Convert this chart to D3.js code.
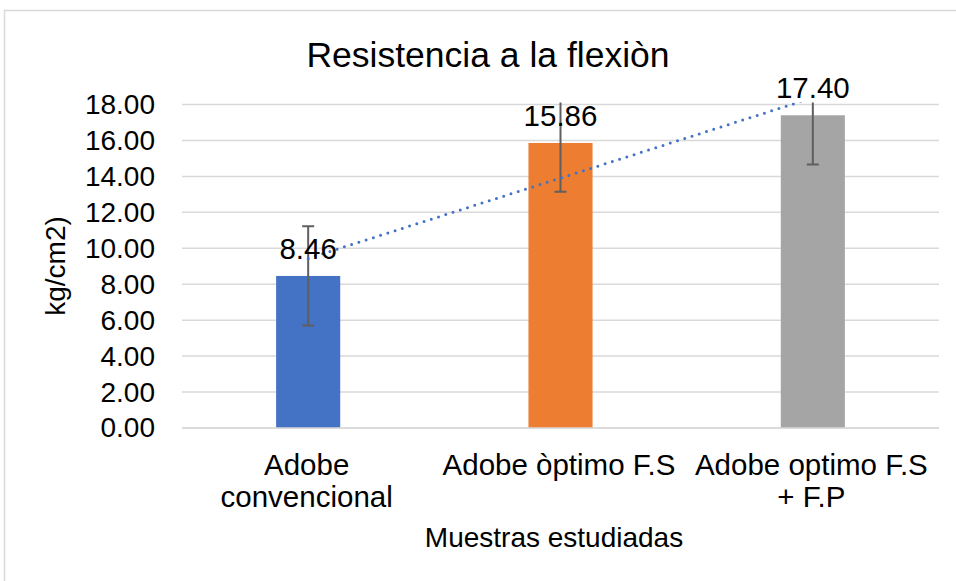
<!DOCTYPE html>
<html>
<head>
    <meta charset="UTF-8"/>
    <script src="https://d3js.org/d3.v7.min.js"></script>
    <style>
        body {
            margin: 0;
            background: #fff;
            font-family: "Liberation Sans", Arial, Helvetica, sans-serif;
        }
        svg text {
            fill: #000;
        }
    </style>
</head>
<body>
<div id="chart"></div>
<script>
    // data
    var categories = ["Adobe convencional", "Adobe òptimo F.S", "Adobe optimo F.S + F.P"];
    var categoryLines = [["Adobe", "convencional"], ["Adobe òptimo F.S"], ["Adobe optimo F.S", "+ F.P"]];
    var values = [8.46, 15.86, 17.40];
    var errors = [2.76, 2.72, 2.74];
    var barColors = ["#4472C4", "#ED7D31", "#A5A5A5"];
    var yTicks = [0, 2, 4, 6, 8, 10, 12, 14, 16, 18];

    var width = 956, height = 581;
    var plot = {left: 182, right: 939, top: 104.5, bottom: 428};

    var svg = d3.select("#chart")
        .append("svg")
        .attr("width", width)
        .attr("height", height);

    // chart border (cut off on the right and bottom as in the picture)
    svg.append("rect")
        .attr("x", 4.5).attr("y", 10.5)
        .attr("width", 1000).attr("height", 1000)
        .attr("fill", "none")
        .attr("stroke", "#d9d9d9")
        .attr("stroke-width", 1.5);

    var x = d3.scaleBand()
        .domain(categories)
        .range([plot.left, plot.right])
        .paddingInner(0.746)
        .paddingOuter(0.373);

    var y = d3.scaleLinear()
        .domain([0, 18])
        .range([plot.bottom, plot.top]);

    svg.append("defs").append("clipPath")
        .attr("id", "plotclip")
        .append("rect")
        .attr("x", plot.left).attr("y", plot.top - 2)
        .attr("width", plot.right - plot.left)
        .attr("height", plot.bottom - plot.top + 3);

    // gridlines
    svg.selectAll(".grid")
        .data(yTicks)
        .enter()
        .append("line")
        .attr("x1", plot.left).attr("x2", plot.right)
        .attr("y1", function(d){ return y(d); })
        .attr("y2", function(d){ return y(d); })
        .attr("stroke", "#d9d9d9")
        .attr("stroke-width", 1.5);

    // y axis labels
    var yAxis = d3.axisLeft(y)
        .tickValues(yTicks)
        .tickSize(0)
        .tickPadding(0)
        .tickFormat(d3.format(".2f"));
    var yg = svg.append("g")
        .attr("transform", "translate(155,0)")
        .call(yAxis);
    yg.select(".domain").remove();
    yg.selectAll("text")
        .attr("font-family", "'Liberation Sans', Arial, sans-serif")
        .attr("font-size", "28px")
        .attr("fill", "#000");

    // bars
    svg.selectAll(".bar")
        .data(values)
        .enter()
        .append("rect")
        .attr("x", function(d, i){ return x(categories[i]); })
        .attr("y", function(d){ return y(d); })
        .attr("width", x.bandwidth())
        .attr("height", function(d){ return y(0) - y(d); })
        .attr("fill", function(d, i){ return barColors[i]; });

    // baseline
    svg.append("line")
        .attr("x1", plot.left).attr("x2", plot.right)
        .attr("y1", y(0)).attr("y2", y(0))
        .attr("stroke", "#d9d9d9")
        .attr("stroke-width", 1.5);

    // error bars
    var eg = svg.append("g").attr("clip-path", "url(#plotclip)");
    values.forEach(function(v, i){
        var cx = x(categories[i]) + x.bandwidth() / 2;
        var lo = y(v - errors[i]), hi = y(v + errors[i]);
        eg.append("line")
            .attr("x1", cx).attr("x2", cx)
            .attr("y1", lo).attr("y2", hi)
            .attr("stroke", "#5f5f5f").attr("stroke-width", 2);
        [lo, hi].forEach(function(yy){
            eg.append("line")
                .attr("x1", cx - 6).attr("x2", cx + 6)
                .attr("y1", yy).attr("y2", yy)
                .attr("stroke", "#5f5f5f").attr("stroke-width", 2);
        });
    });

    // linear trendline (least squares over the three points)
    var n = values.length;
    var mx = d3.mean(values, function(d, i){ return i + 1; });
    var my = d3.mean(values);
    var slope = d3.sum(values, function(d, i){ return (i + 1 - mx) * (d - my); }) /
                d3.sum(values, function(d, i){ return (i + 1 - mx) * (i + 1 - mx); });
    var intercept = my - slope * mx;
    var xPos = function(k){ return x(categories[k - 1]) + x.bandwidth() / 2; };

    svg.append("line")
        .attr("clip-path", "url(#plotclip)")
        .attr("x1", xPos(1)).attr("y1", y(intercept + slope * 1))
        .attr("x2", xPos(n)).attr("y2", y(intercept + slope * n))
        .attr("stroke", "#4472C4")
        .attr("stroke-width", 3)
        .attr("stroke-linecap", "round")
        .attr("stroke-dasharray", "0 7.6");

    // data labels
    svg.selectAll(".label")
        .data(values)
        .enter()
        .append("text")
        .attr("x", function(d, i){ return x(categories[i]) + x.bandwidth() / 2; })
        .attr("y", function(d){ return y(d) - 17; })
        .attr("text-anchor", "middle")
        .attr("font-size", "29.5px")
        .text(function(d){ return d.toFixed(2); });

    // category labels
    categoryLines.forEach(function(lines, i){
        var t = svg.append("text")
            .attr("text-anchor", "middle")
            .attr("font-size", "29.5px");
        lines.forEach(function(line, j){
            t.append("tspan")
                .attr("x", x(categories[i]) + x.bandwidth() / 2 - 1.5)
                .attr("y", 475 + j * 32)
                .text(line);
        });
    });

    // title
    svg.append("text")
        .attr("x", 488).attr("y", 67)
        .attr("text-anchor", "middle")
        .attr("font-size", "35.5px")
        .text("Resistencia a la flexiòn");

    // axis titles
    svg.append("text")
        .attr("x", 554).attr("y", 547)
        .attr("text-anchor", "middle")
        .attr("font-size", "28px")
        .text("Muestras estudiadas");

    svg.append("text")
        .attr("transform", "translate(65,266) rotate(-90)")
        .attr("text-anchor", "middle")
        .attr("font-size", "28px")
        .text("kg/cm2)");
</script>
</body>
</html>
